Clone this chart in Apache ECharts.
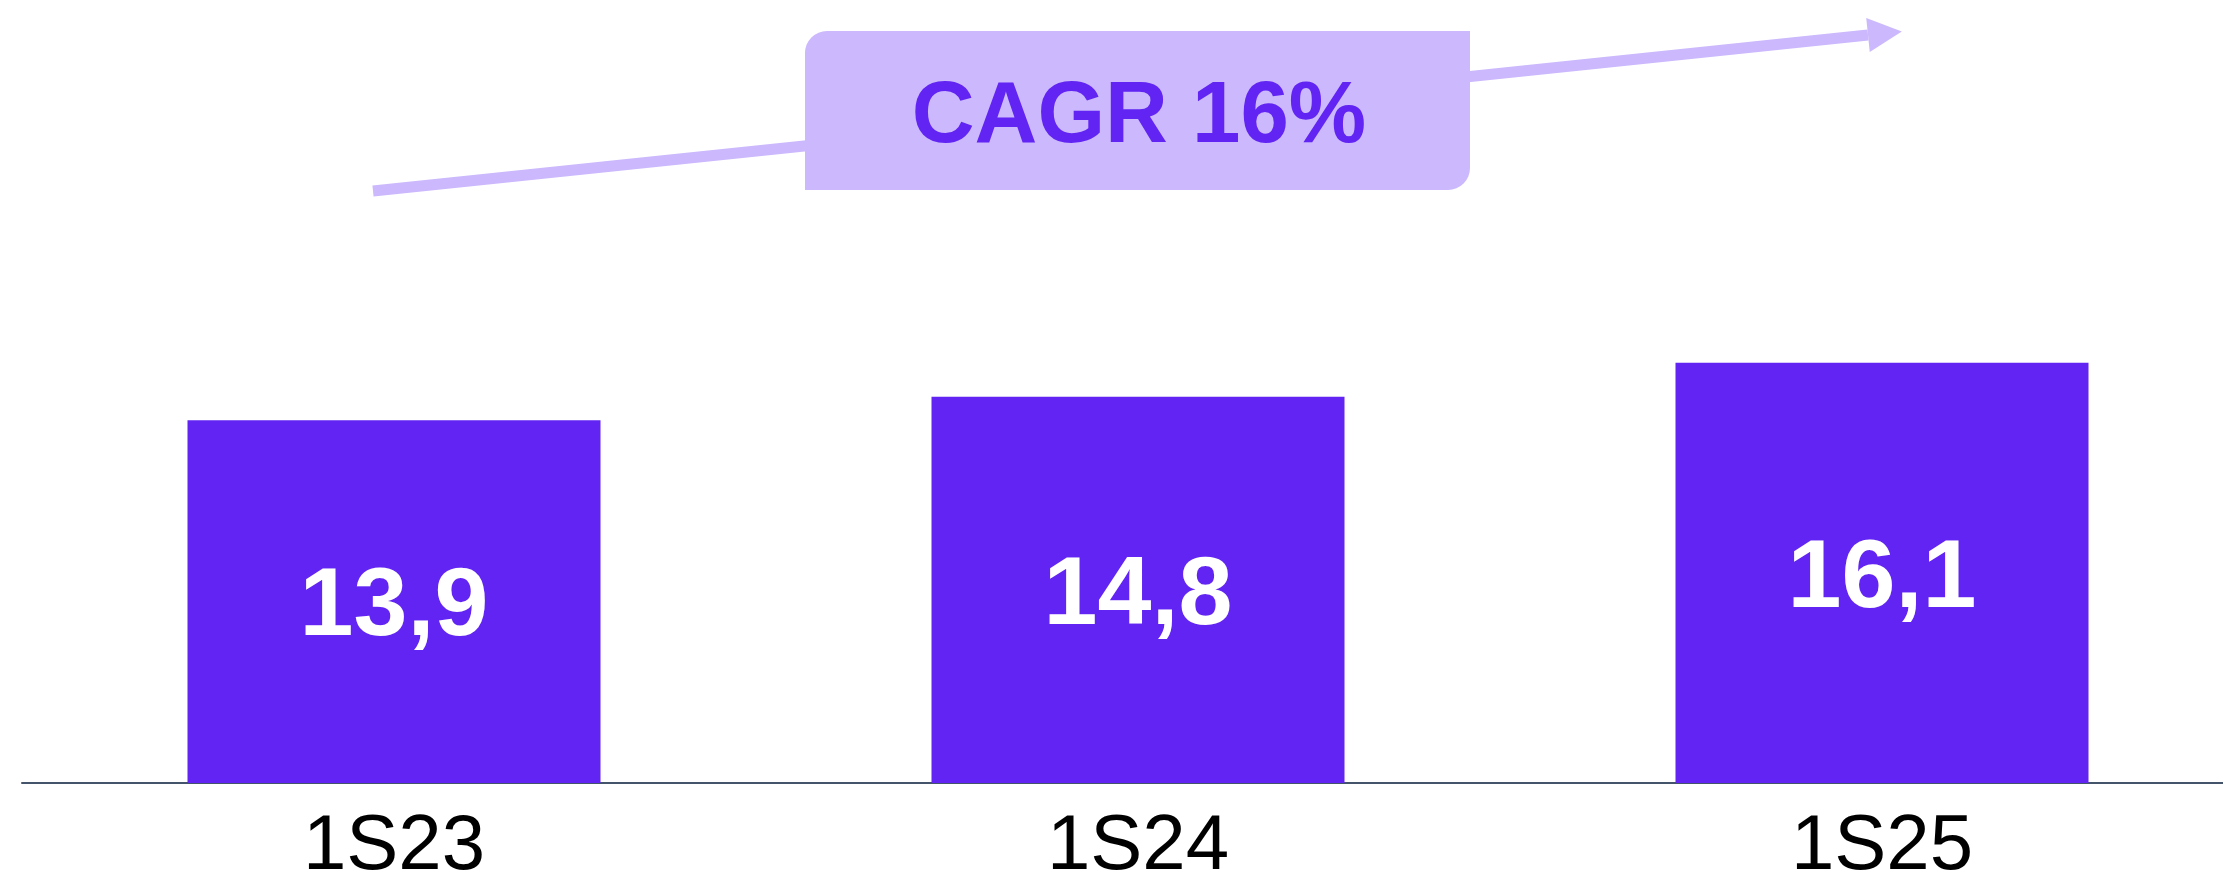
<!DOCTYPE html>
<html>
<head>
<meta charset="utf-8">
<script src="https://cdn.jsdelivr.net/npm/echarts@6/dist/echarts.min.js"></script>
<style>
html,body{margin:0;padding:0;background:#fff;}
#chart{width:2223px;height:873px;}
</style>
</head>
<body>
<div id="chart"></div>
<script>
const categories = ['1S23', '1S24', '1S25'];
const values = [13.9, 14.8, 16.1];
const cagrLabel = 'CAGR 16%';

const BAR = '#6124F2';
const LIGHT = '#CBB8FD';
const FONT = '"Liberation Sans", Arial, sans-serif';

const chart = echarts.init(document.getElementById('chart'), null, {renderer: 'canvas'});

// arrow annotation geometry
const ax0 = 373, ay0 = 191, ax1 = 1868, ay1 = 35;
const dx = ax1 - ax0, dy = ay1 - ay0, len = Math.hypot(dx, dy);
const ux = dx / len, uy = dy / len, px = -uy, py = ux;
const headLen = 34, headHalf = 17;
const tip = [ax1 + ux * headLen, ay1 + uy * headLen];

chart.setOption({
  animation: false,
  backgroundColor: '#ffffff',
  grid: {left: 22, right: -31, top: 0, bottom: 90, containLabel: false, outerBoundsMode: 'none'},
  xAxis: {
    type: 'category',
    data: categories,
    axisLine: {show: true, lineStyle: {color: '#44546A', width: 2}},
    axisTick: {show: false},
    axisLabel: {
      color: '#000000',
      fontFamily: FONT,
      fontSize: 78,
      margin: 25
    }
  },
  yAxis: {
    type: 'value',
    min: 0,
    max: 30,
    show: false,
    splitLine: {show: false}
  },
  series: [{
    type: 'bar',
    data: values,
    barWidth: 413,
    itemStyle: {color: BAR},
    label: {
      show: true,
      position: 'inside',
      offset: [0, 7],
      color: '#ffffff',
      fontFamily: FONT,
      fontWeight: 'bold',
      fontSize: 97,
      formatter: p => p.value.toFixed(1).replace('.', ',')
    }
  }],
  graphic: [
    {
      type: 'line',
      shape: {x1: ax0, y1: ay0, x2: ax1, y2: ay1},
      style: {stroke: LIGHT, lineWidth: 11, lineCap: 'butt'},
      z: 10
    },
    {
      type: 'polygon',
      shape: {points: [
        [ax1 + px * headHalf, ay1 + py * headHalf],
        tip,
        [ax1 - px * headHalf, ay1 - py * headHalf]
      ]},
      style: {fill: LIGHT},
      z: 10
    },
    {
      type: 'rect',
      shape: {x: 805, y: 31, width: 665, height: 159, r: [22, 0, 22, 0]},
      style: {fill: LIGHT},
      z: 11
    },
    {
      type: 'text',
      x: 1139, y: 118,
      style: {
        text: cagrLabel,
        fill: BAR,
        font: 'bold 87px "Liberation Sans", Arial, sans-serif',
        align: 'center',
        verticalAlign: 'middle'
      },
      z: 12
    }
  ]
});
</script>
</body>
</html>
